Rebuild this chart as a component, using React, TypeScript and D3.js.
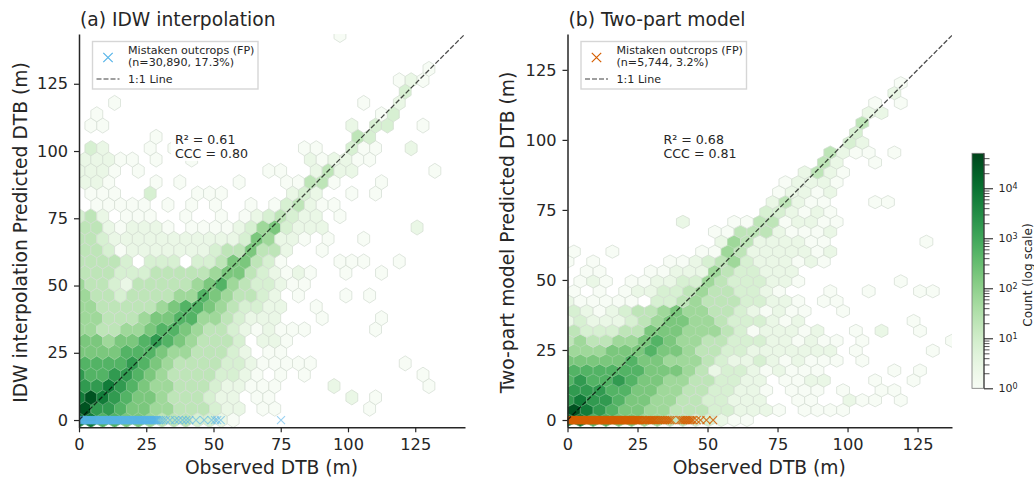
import React, { useEffect, useRef } from 'react';
import * as d3 from 'd3';

// Hexbin rows, bottom row first. Each char is a count level (index into countLevels), '.' = empty bin.
const countLevels = [1, 2.5, 7, 20, 60, 180, 550, 1800, 6500, 30000];

const idwRows = [
  '88665543332210',
  '97765544333211.00.......0',
  '89876554333211.00......1.0',
  '77876544333211000....1.......0',
  '7667765433332210.0.0.........0',
  '66667654333322100000.......0',
  '555566654433321.00',
  '55455676543332.110',
  '44334456654332101000.....0',
  '44333455664432111...0....0',
  '443333345665432211..0',
  '43323333446543321.0...0.0',
  '43321333334564322100',
  '33322233333455321010..0..0',
  '33332.222.22355320....000..0',
  '332011111112335331..0',
  '33211111111111254110.0..0',
  '33101110.000012452111.......1',
  '231.000..0..0.0123211.0',
  '.00000.0.0.0..0.023100',
  '.000..2...000.....121..0.0',
  '110...0.0....0...00330...0',
  '1110.0..........00..1311......0',
  '11100.0..0.........101100',
  '.21...0.0..........00..200..1',
  '......0................32',
  '.00....................1.22..0',
  '.0.......................02',
  '...0....................0..1',
  '...........................2',
  '...........................010',
  '.............................0',
  '',
  '',
  '......................0',
];

const twoPartRows = [
  '886655443322100',
  '98765544333221110.0000',
  '7877655443322111..00..100.0',
  '7776655443322110.000.0..00',
  '6766765544332211.0011...0..0',
  '66666655543122101000.....0.0',
  '5555565544432112101000.0',
  '444555655433221111111.0.....0',
  '3433445654433222110100.0......0',
  '32223355544432011101..0.1..0',
  '1211123455443222101........0',
  '2101233454433210100..0',
  '100000.223433322110.00',
  '0.0.0112234332210...0..0...00',
  '.010.00112243222110.......0',
  '.00...001114322111',
  '0.0.....0012342111010',
  '0..0......00431111101',
  '............143111100.......0',
  '...........0033310001',
  '.........1...003301100',
  '...............221010',
  '................13100...00',
  '................01101',
  '.................01110',
  '..................1310',
  '....................31..0',
  '....................3100.0',
  '......................21',
  '......................2',
  '.......................3',
  '.......................11',
  '........................0.0',
  '.........................1',
  '..........................0',
];

// Observed DTB of the mistaken outcrops, all drawn at predicted = 0
const idwFpX = [
  0, 0.25, 0.5, 0.75, 1, 1.25, 1.5, 1.75, 2, 2.25, 2.5, 2.75, 3, 3.25, 3.5, 3.75, 4, 4.25, 4.5, 4.75,
  5, 5.25, 5.5, 5.75, 6, 6.25, 6.5, 6.75, 7, 7.25, 7.5, 7.75, 8, 8.25, 8.5, 8.75, 9, 9.25, 9.5, 9.75,
  10, 10.25, 10.5, 10.75, 11, 11.25, 11.5, 11.75, 12, 12.25, 12.5, 12.75, 13, 13.25, 13.5, 13.75,
  14, 14.25, 14.5, 14.75, 15, 15.25, 15.5, 15.75, 16, 16.25, 16.5, 16.75, 17, 17.25, 17.5, 17.75,
  18, 18.25, 18.5, 18.75, 19, 19.25, 19.5, 19.75, 20, 20.25, 20.5, 20.75, 21, 21.25, 21.5, 21.75,
  22, 22.25, 22.5, 22.75, 23, 23.25, 23.5, 23.75, 24, 24.25, 24.5, 24.75, 25, 25.25, 25.5, 25.75,
  26, 26.25, 26.5, 26.75, 27, 27.25, 27.5, 27.75, 28, 28.25, 28.5, 28.75, 29,
  29.6, 30.4, 31.3, 32.3, 33.8, 35.7, 37, 38.5, 39.8, 41, 43.5, 46.5, 49.3, 50.6, 51.4, 52.7, 75.1,
];

const twoPartFpX = [
  0, 0.25, 0.5, 0.75, 1, 1.25, 1.5, 1.75, 2, 2.25, 2.5, 2.75, 3, 3.25, 3.5, 3.75, 4, 4.25, 4.5, 4.75,
  5, 5.25, 5.5, 5.75, 6, 6.25, 6.5, 6.75, 7, 7.25, 7.5, 7.75, 8, 8.25, 8.5, 8.75, 9, 9.25, 9.5, 9.75,
  10, 10.25, 10.5, 10.75, 11, 11.25, 11.5, 11.75, 12, 12.25, 12.5, 12.75, 13, 13.25, 13.5, 13.75,
  14, 14.25, 14.5, 14.75, 15, 15.25, 15.5, 15.75, 16, 16.25, 16.5, 16.75, 17, 17.25, 17.5, 17.75,
  18, 18.25, 18.5, 18.75, 19, 19.25, 19.5, 19.75, 20, 20.25, 20.5, 20.75, 21, 21.25, 21.5, 21.75,
  22, 22.25, 22.5, 22.75, 23, 23.25, 23.5, 23.75, 24, 24.25, 24.5, 24.75, 25, 25.25, 25.5,
  26, 26.5, 27, 27.6, 28, 28.5, 29, 29.4, 29.9, 30.3, 30.8, 31.2, 31.8, 32.4, 33, 33.6, 34.2, 34.8, 35.4, 36, 36.6, 37.2,
  40.1, 40.7, 41.3, 41.9, 42.5, 43.1, 43.7, 44.3, 44.9, 46.1, 47.5, 49.6, 52,
];

const axisTicks = [0, 25, 50, 75, 100, 125];
const colorbarMajor = [1, 10, 100, 1000, 10000];
const colorbarMinor = [
  2, 3, 4, 5, 6, 7, 8, 9, 20, 30, 40, 50, 60, 70, 80, 90, 200, 300, 400, 500, 600, 700, 800, 900,
  2000, 3000, 4000, 5000, 6000, 7000, 8000, 9000, 20000, 30000, 40000,
];
const COUNT_MAX = 50000;

const FONT = '"DejaVu Sans", sans-serif';
const INK = '#262626';

const colorT = d3.scaleLog().domain([1, COUNT_MAX]).range([0, 1]);
const countColor = (c: number) => d3.interpolateGreens(colorT(c));
// pale bins get a visible grey-green edge, dark ones barely any
const edgeColor = (c: number) =>
  d3.interpolateRgb(countColor(c), '#d3ddd1')(colorT(c) < 0.3 ? 0.9 : 0.3);

const panels = [
  {
    id: 'a', title: '(a) IDW interpolation', yLabel: 'IDW interpolation Predicted DTB (m)',
    rows: idwRows, fpX: idwFpX, fpColor: '#56B4E9',
    stats: ['R² = 0.61', 'CCC = 0.80'], legend: ['Mistaken outcrops (FP)', '(n=30,890, 17.3%)'],
    xDomain: [0, 143.5], yDomain: [-2.7, 143.5], xRange: [79, 465],
    binW: 4.41, rowH: 4.21, yLabelX: 26.5, yLabelY: 232.5,
  },
  {
    id: 'b', title: '(b) Two-part model', yLabel: 'Two-part model Predicted DTB (m)',
    rows: twoPartRows, fpX: twoPartFpX, fpColor: '#D55E00',
    stats: ['R² = 0.68', 'CCC = 0.81'], legend: ['Mistaken outcrops (FP)', '(n=5,744, 3.2%)'],
    xDomain: [0, 137.3], yDomain: [-2.6, 137.8], xRange: [567.5, 952],
    binW: 4.577, rowH: 3.536, yLabelX: 514, yLabelY: 232.5,
  },
];

function drawPanel(svg: any, p: any) {
  const x = d3.scaleLinear().domain(p.xDomain).range(p.xRange);
  const y = d3.scaleLinear().domain(p.yDomain).range([427.3, 34]);
  const left = p.xRange[0];

  svg.append('clipPath').attr('id', `clip-${p.id}`)
    .append('rect')
    .attr('x', left).attr('y', 34)
    .attr('width', p.xRange[1] - left).attr('height', 393.3);

  const plot = svg.append('g').attr('clip-path', `url(#clip-${p.id})`);

  // hexagons
  const cells: any[] = [];
  p.rows.forEach((row: string, r: number) => {
    row.split('').forEach((ch, k) => {
      if (ch === '.') return;
      cells.push({ cx: (k + (r % 2) / 2) * p.binW, cy: r * p.rowH, count: countLevels[+ch] });
    });
  });
  const hexLine = d3.line<any>().x(v => x(v[0])).y(v => y(v[1])).curve(d3.curveLinearClosed);
  const w = p.binW / 2;
  const h = p.rowH / 3;
  plot.selectAll('.hex').data(cells).enter().append('path')
    .attr('class', 'hex')
    .attr('d', (d: any) => hexLine([
      [d.cx, d.cy + 2 * h], [d.cx + w, d.cy + h], [d.cx + w, d.cy - h],
      [d.cx, d.cy - 2 * h], [d.cx - w, d.cy - h], [d.cx - w, d.cy + h],
    ]))
    .attr('fill', (d: any) => countColor(d.count))
    .attr('stroke', (d: any) => edgeColor(d.count))
    .attr('stroke-width', 0.8);

  // false positive crosses along y = 0
  const r = 4;
  plot.selectAll('.fp').data(p.fpX).enter().append('path')
    .attr('class', 'fp')
    .attr('transform', (d: number) => `translate(${x(d)},${y(0)})`)
    .attr('d', `M${-r},${-r}L${r},${r}M${-r},${r}L${r},${-r}`)
    .attr('fill', 'none')
    .attr('stroke', p.fpColor)
    .attr('stroke-opacity', p.id === 'a' ? 0.6 : 0.85)
    .attr('stroke-width', 1.1);

  // 1:1 line
  const end = Math.min(p.xDomain[1], p.yDomain[1]);
  plot.append('line')
    .attr('x1', x(0)).attr('y1', y(0)).attr('x2', x(end)).attr('y2', y(end))
    .attr('stroke', '#000').attr('stroke-opacity', 0.7)
    .attr('stroke-width', 1.3).attr('stroke-dasharray', '5 2');

  // axes
  const styleAxis = (g: any) => {
    g.selectAll('.domain').attr('stroke', INK).attr('stroke-width', 1.5);
    g.selectAll('.tick line').attr('stroke', INK).attr('stroke-width', 1.2);
    g.selectAll('.tick text').attr('fill', INK).style('font-family', FONT).style('font-size', '16.2px');
  };
  svg.append('g')
    .attr('transform', 'translate(0,427.3)')
    .call(d3.axisBottom(x).tickValues(axisTicks).tickSizeInner(5).tickSizeOuter(0).tickPadding(6))
    .call(styleAxis);
  svg.append('g')
    .attr('transform', `translate(${left},0)`)
    .call(d3.axisLeft(y).tickValues(axisTicks).tickSizeInner(5).tickSizeOuter(0).tickPadding(6))
    .call(styleAxis);

  const text = (tx: number, ty: number, s: string, size: number) =>
    svg.append('text').attr('x', tx).attr('y', ty).text(s)
      .attr('fill', INK).style('font-family', FONT).style('font-size', `${size}px`);

  text(left + 1, 26, p.title, 18.7);
  text((p.xRange[0] + p.xRange[1]) / 2 - 0.5, 474, 'Observed DTB (m)', 18.7).attr('text-anchor', 'middle');
  text(0, 0, p.yLabel, 18.7)
    .attr('text-anchor', 'middle')
    .attr('transform', `translate(${p.yLabelX},${p.yLabelY}) rotate(-90)`);

  // stats block with its white backing
  svg.append('rect')
    .attr('x', left + 92).attr('y', 130)
    .attr('width', 80).attr('height', 31)
    .attr('fill', '#fff').attr('fill-opacity', 0.85);
  text(left + 96, 143.5, p.stats[0], 12.6);
  text(left + 96, 157.5, p.stats[1], 12.6);

  // legend
  const lx = left + 13.5;
  svg.append('rect')
    .attr('x', lx).attr('y', 41.5)
    .attr('width', 165.5).attr('height', 47.5)
    .attr('fill', '#fff').attr('fill-opacity', 0.8)
    .attr('stroke', '#d6d6d6').attr('stroke-width', 1.4);
  const m = 4.7;
  svg.append('path')
    .attr('transform', `translate(${lx + 15.5},57.5)`)
    .attr('d', `M${-m},${-m}L${m},${m}M${-m},${m}L${m},${-m}`)
    .attr('fill', 'none').attr('stroke', p.fpColor).attr('stroke-width', 1.2);
  svg.append('line')
    .attr('x1', lx + 4).attr('x2', lx + 27).attr('y1', 79).attr('y2', 79)
    .attr('stroke', '#000').attr('stroke-opacity', 0.75)
    .attr('stroke-width', 1.2).attr('stroke-dasharray', '5 2');
  text(lx + 35.5, 54, p.legend[0], 11.1);
  text(lx + 35.5, 66, p.legend[1], 11.1);
  text(lx + 35.5, 83, '1:1 Line', 11.1);
}

function drawColorbar(svg: any) {
  const scale = d3.scaleLog().domain([1, COUNT_MAX]).range([388.3, 153.3]);
  const stops = d3.range(0, 21).map(i => i / 20);
  const grad = svg.append('linearGradient').attr('id', 'cbar')
    .attr('x1', 0).attr('x2', 0).attr('y1', 1).attr('y2', 0);
  grad.selectAll('stop').data(stops).enter().append('stop')
    .attr('offset', (d: number) => d)
    .attr('stop-color', (d: number) => d3.interpolateGreens(d));

  svg.append('rect')
    .attr('x', 972).attr('y', 153.3).attr('width', 12).attr('height', 235)
    .attr('fill', 'url(#cbar)')
    .attr('stroke', '#777').attr('stroke-width', 0.8);
  svg.append('line')
    .attr('x1', 984).attr('x2', 984).attr('y1', 153.3).attr('y2', 388.3)
    .attr('stroke', INK).attr('stroke-width', 1);

  const minor = svg.append('g').attr('transform', 'translate(984,0)')
    .call(d3.axisRight(scale).tickValues(colorbarMinor).tickSizeInner(5.5).tickSizeOuter(0).tickFormat(() => ''));
  minor.select('.domain').remove();
  minor.selectAll('.tick line').attr('stroke', INK).attr('stroke-width', 0.8);

  const major = svg.append('g').attr('transform', 'translate(984,0)')
    .call(d3.axisRight(scale).tickValues(colorbarMajor).tickSizeInner(9).tickSizeOuter(0).tickPadding(5.5).tickFormat(() => ''));
  major.select('.domain').remove();
  major.selectAll('.tick line').attr('stroke', INK).attr('stroke-width', 1.1);
  major.selectAll('.tick text').each(function (this: any, d: any) {
    const t = d3.select(this).attr('fill', INK).style('font-family', FONT).style('font-size', '11px');
    t.append('tspan').text('10');
    t.append('tspan').text(String(Math.round(Math.log10(d))))
      .attr('dy', '-0.4em').style('font-size', '8px');
  });

  svg.append('text')
    .attr('transform', 'translate(1032,275) rotate(-90)')
    .attr('text-anchor', 'middle')
    .attr('fill', INK)
    .style('font-family', FONT).style('font-size', '12.2px')
    .text('Count (log scale)');
}

export default function App() {
  const svgRef = useRef<SVGSVGElement>(null);

  useEffect(() => {
    const svg = d3.select(svgRef.current);
    svg.selectAll('*').remove();
    panels.forEach(p => drawPanel(svg, p));
    drawColorbar(svg);
  }, []);

  return (
    <svg
      ref={svgRef}
      width={1034}
      height={478}
      style={{ position: 'absolute', left: 0, top: 0, background: '#fff' }}
    />
  );
}
